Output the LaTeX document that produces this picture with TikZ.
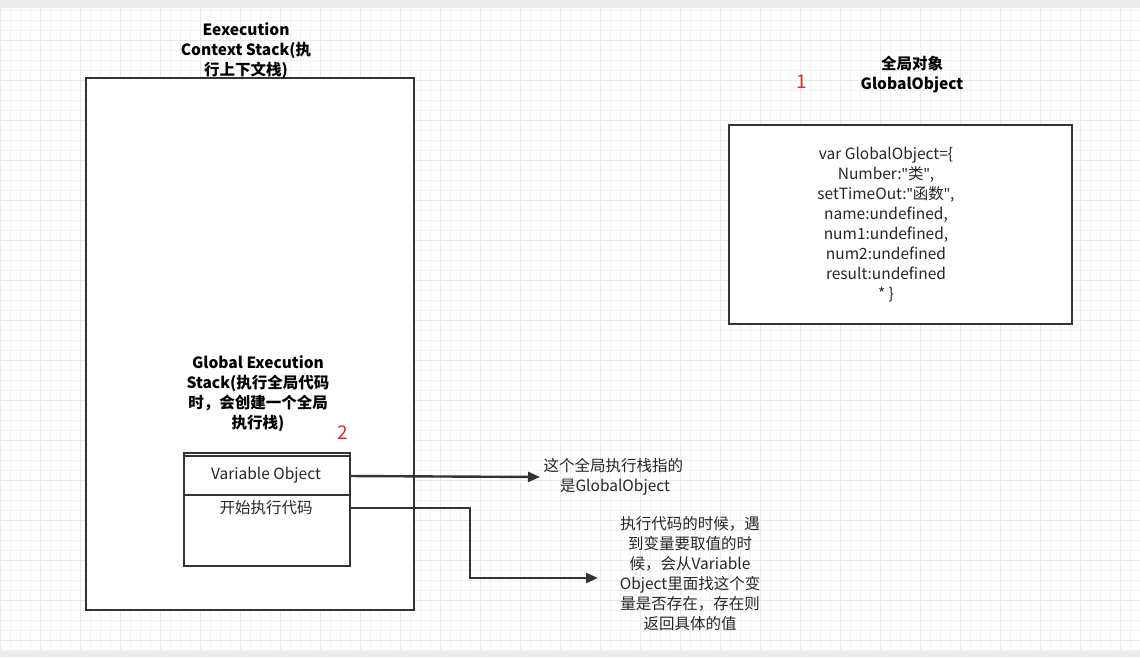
\documentclass[tikz,border=0pt]{standalone}
\usepackage{fontspec}
\setmainfont{Noto Sans CJK SC}
\newfontfamily\latf[Ligatures=NoCommon]{Noto Sans}
\usetikzlibrary{arrows.meta}
\definecolor{line}{HTML}{333333}
\definecolor{redn}{HTML}{E03030}
\newcommand{\dq}{{\latf\symbol{34}}}
\begin{document}
\begin{tikzpicture}[x=1pt,y=-1pt,
  box/.style={draw=line,line width=2.4pt,fill=white},
  ttl/.style={font=\bfseries\fontsize{15.5}{20}\selectfont,align=center,text=black},
  txt/.style={font=\fontsize{15.5}{20}\selectfont,align=center,text=black!85},
  num/.style={font=\fontsize{19}{20}\selectfont,text=redn},
  arr/.style={draw=line,line width=2.4pt,-{Triangle[length=12pt,width=10pt]}}]
\useasboundingbox (0,0) rectangle (1140,657);
\fill[white] (0,0) rectangle (1140,657);
\fill[black!8] (0,0) rectangle (1140,8);
\fill[black!8] (0,650) rectangle (1140,657);
\draw[black!5,line width=0.5pt,step=10pt] (0,8) grid (1140,650);
\draw[black!9,line width=0.6pt,step=40pt] (0,8) grid (1140,650);
\node[box,minimum width=328pt,minimum height=532pt,anchor=north west] (ecs) at (85,77) {};
\node[ttl] (ecst) at (246,51) {Eexecution\\Context Stack(执\\行上下文栈)};
\node[num] (n1) at (802,82) {1};
\node[ttl] (got) at (912,75) {全局对象\\GlobalObject};
\node[box,minimum width=343pt,minimum height=199pt,anchor=north west] (go) at (728,124) {};
\node[txt] (got2) at (886,225) {var GlobalObject=\{\\Number:\dq 类\dq,\\setTimeOut:\dq 函数\dq,\\name:undefined,\\num1:undefined,\\num2:undefined\\result:undefined\\* \}};
\node[ttl] (ges) at (258,394) {Global Execution\\Stack(执行全局代码\\时，会创建一个全局\\执行栈)};
\node[num] (n2) at (343,433) {2};
\node[box,minimum width=166pt,minimum height=113pt,anchor=north west] (st) at (183,452) {};
\draw[line,line width=2.4pt] (183,456) -- (349,456);
\draw[line,line width=2.4pt] (183,495) -- (349,495);
\node[txt] (vo) at (266,475) {Variable Object};
\node[txt] (ks) at (266,508) {开始执行代码};
\coordinate (vor) at (349,476);
\coordinate (ksr) at (349,508);
\node[txt,anchor=west] (t1) at (540,477) {这个全局执行栈指的\\\ 是GlobalObject};
\node[txt] (t2) at (690,574) {执行代码的时候，遇\\到变量要取值的时\\候，会从Variable\\Object里面找这个变\\量是否存在，存在则\\返回具体的值};
\draw[arr] (vor) -- (t1.west);
\draw[arr] (ksr) -- (470,508) -- (470,578) -- (598,578);
\end{tikzpicture}
\end{document}
